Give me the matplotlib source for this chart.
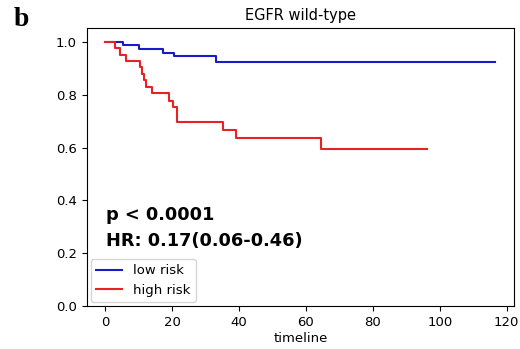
import matplotlib
matplotlib.use('Agg')
import matplotlib.pyplot as plt

# Kaplan-Meier step data
low_t = [0, 5.5, 10.2, 17.4, 20.7, 33.2, 116.5]
low_s = [1.0, 0.987, 0.975, 0.960, 0.947, 0.925, 0.925]

high_t = [0, 2.9, 4.5, 6.2, 10.3, 11.0, 11.6, 12.1, 14.1, 19.1, 20.2, 21.4, 35.3, 39.1, 64.5, 96.1]
high_s = [1.0, 0.976, 0.952, 0.928, 0.904, 0.880, 0.856, 0.830, 0.806, 0.778, 0.755, 0.698,
          0.667, 0.635, 0.594, 0.594]

title = 'EGFR wild-type'
p_text = 'p < 0.0001'
hr_text = 'HR: 0.17(0.06-0.46)'

fig = plt.figure(figsize=(5.2, 3.49), dpi=100)
ax = fig.add_axes([0.1667, 0.1232, 0.8218, 0.7966])

ax.plot(low_t, low_s, drawstyle='steps-post', color='#1a1acc', lw=1.5, label='low risk')
ax.plot(high_t, high_s, drawstyle='steps-post', color='#e62222', lw=1.5, label='high risk')

ax.set_xlim(-5.5, 122.2)
ax.set_ylim(0, 1.053)
ax.set_xticks([0, 20, 40, 60, 80, 100, 120])
ax.set_yticks([0.0, 0.2, 0.4, 0.6, 0.8, 1.0])
ax.tick_params(labelsize=9.5)
ax.set_xlabel('timeline', fontsize=9.5, labelpad=2)
ax.set_title(title, fontsize=10.5, pad=6)

# annotation text
ax.text(0.3, 0.345, p_text, fontsize=12.8, fontweight='bold', va='center')
ax.text(0.3, 0.246, hr_text, fontsize=12.8, fontweight='bold', va='center')

ax.legend(loc='lower left', fontsize=9.5, handlelength=2.0, borderaxespad=0.3)

fig.text(0.027, 0.925, 'b', fontsize=20, fontweight='bold', family='Liberation Serif')

fig.savefig('out.png', dpi=100)
